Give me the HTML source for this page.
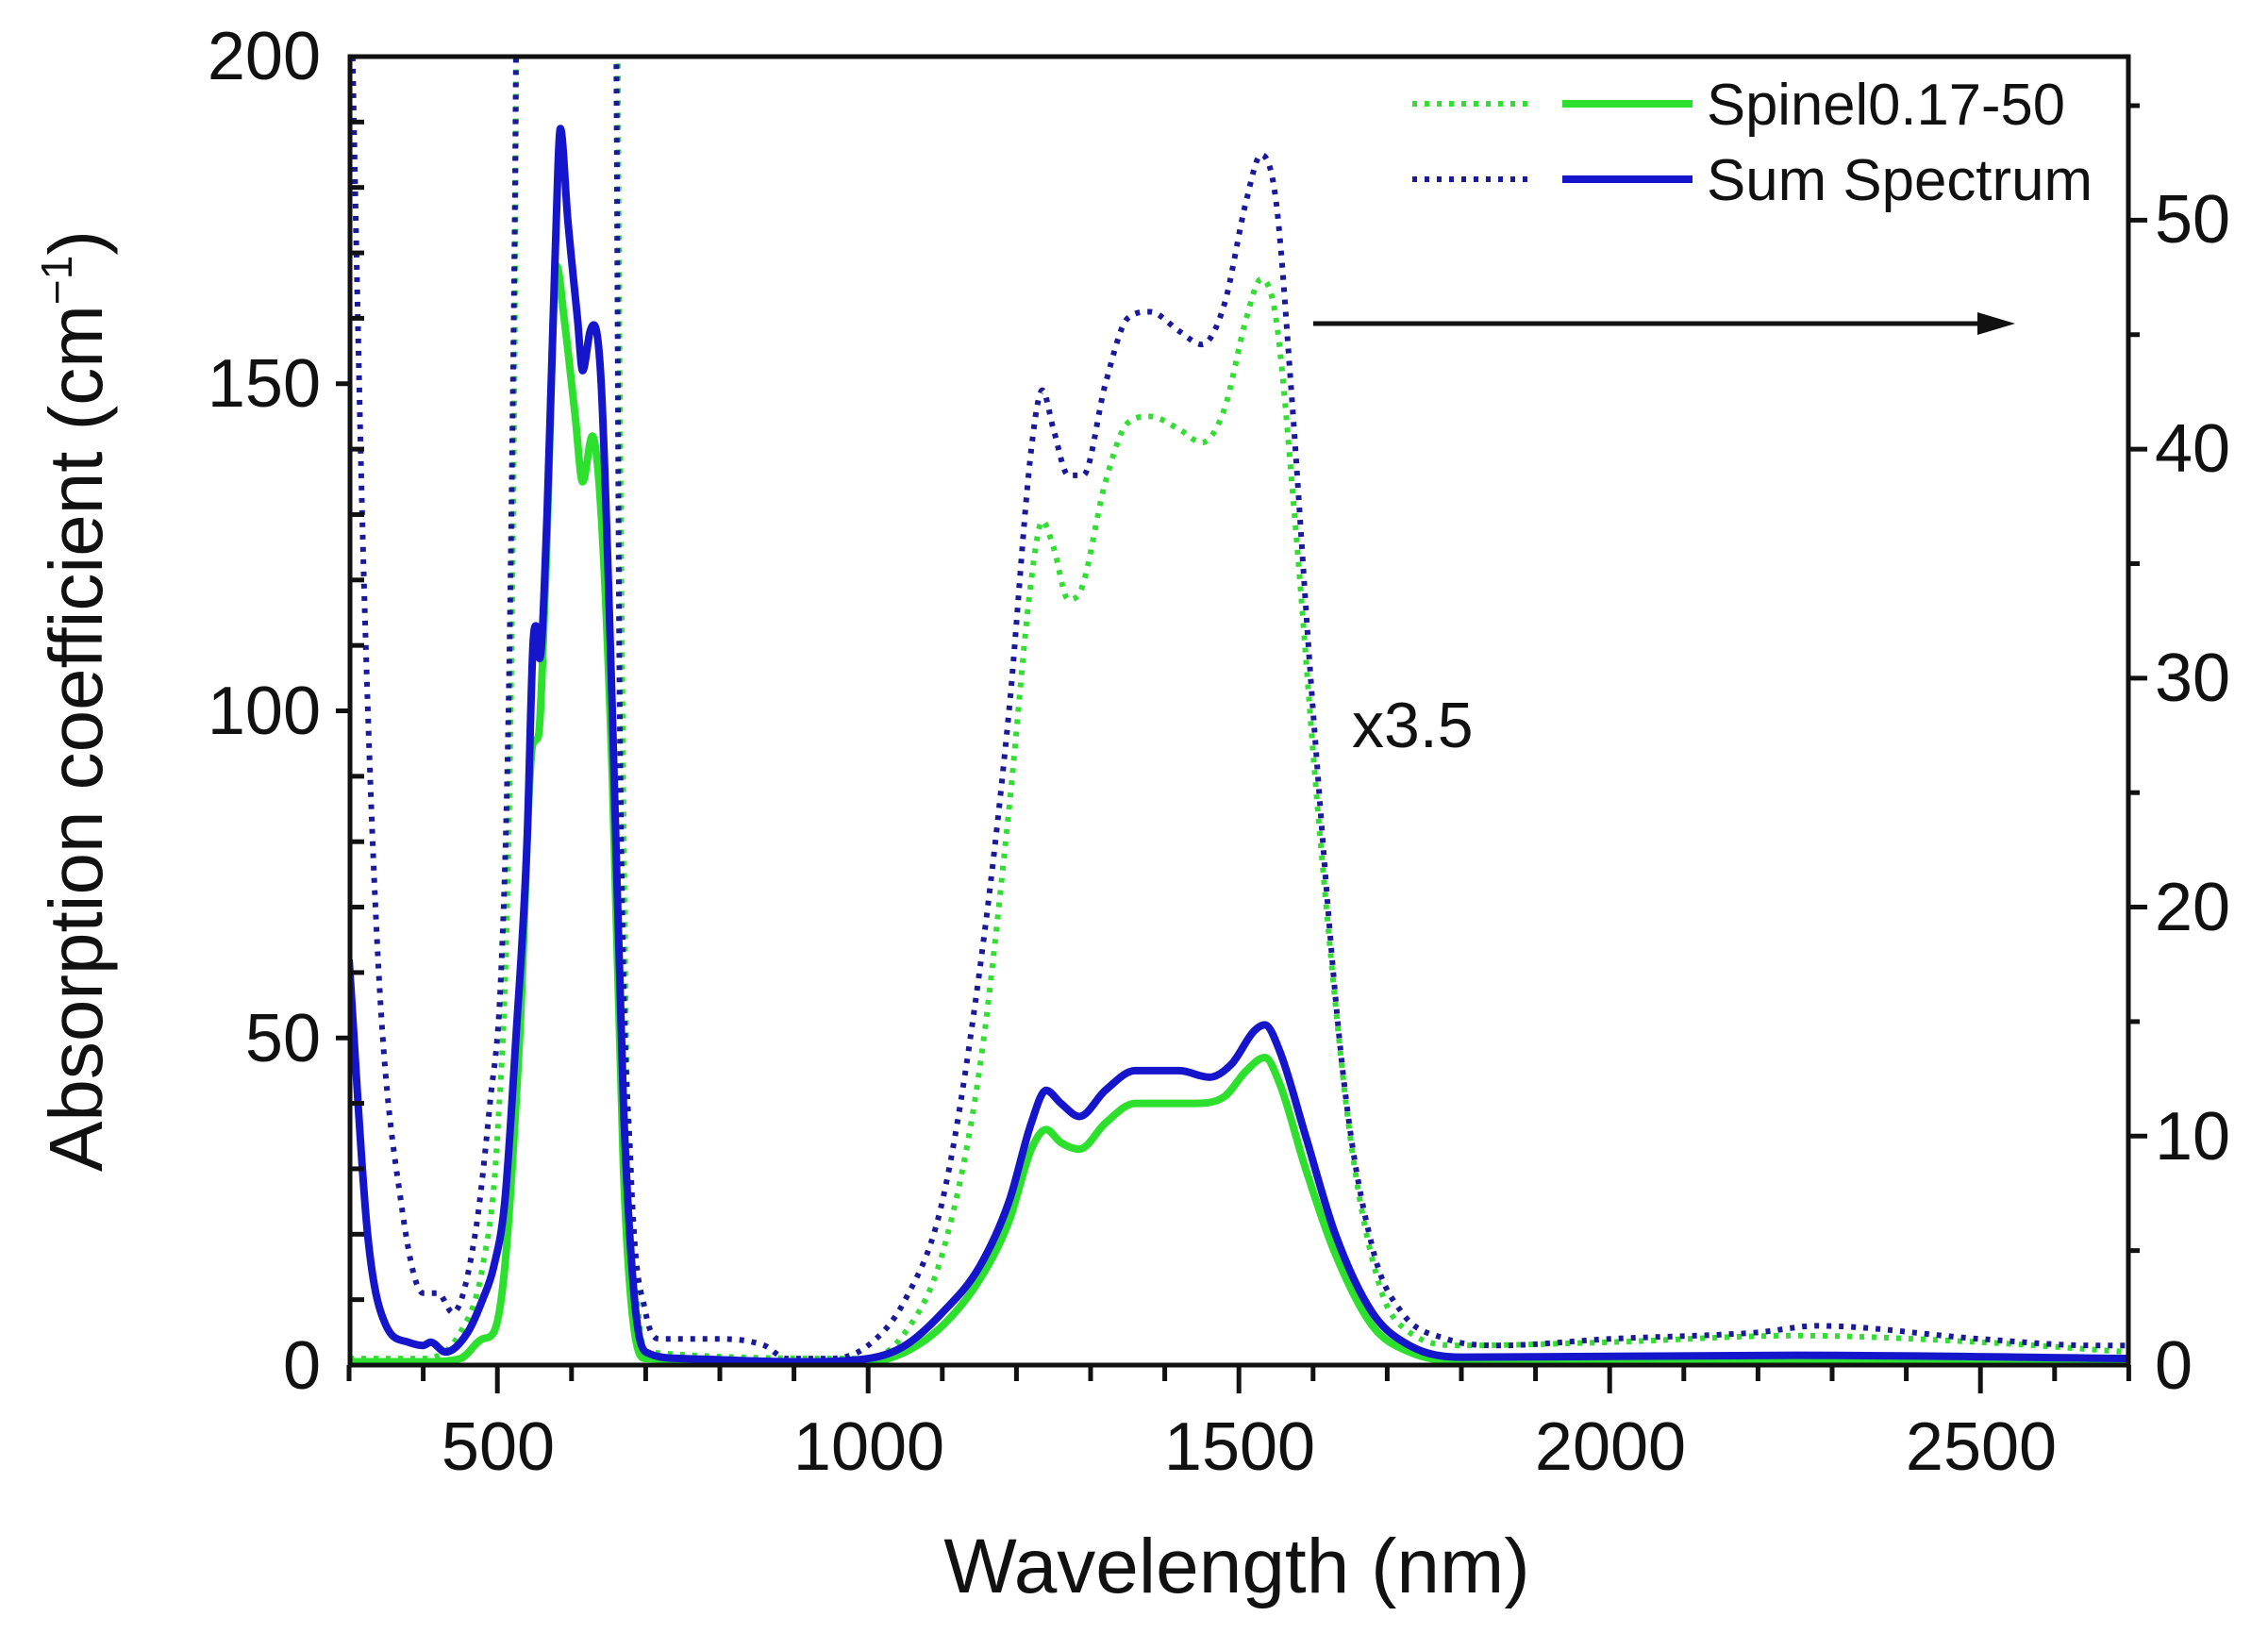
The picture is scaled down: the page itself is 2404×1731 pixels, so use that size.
<!DOCTYPE html>
<html><head><meta charset="utf-8"><style>
html,body{margin:0;padding:0;background:#fff;}
svg{display:block;}
text{font-family:"Liberation Sans",sans-serif;fill:#111;}
</style></head><body>
<svg id="s" width="2404" height="1731" viewBox="0 0 2404 1731" xmlns="http://www.w3.org/2000/svg">
<defs><clipPath id="c"><rect x="371" y="60" width="1885" height="1387"/></clipPath></defs>
<g id="curves" clip-path="url(#c)"></g>
<rect x="371" y="60" width="1885" height="1387" fill="none" stroke="#111" stroke-width="5"/>
<g id="ticks" stroke="#111" stroke-width="5"></g>
<g font-size="72">
<text x="340" y="1472" text-anchor="end">0</text>
<text x="340" y="1125" text-anchor="end">50</text>
<text x="340" y="778" text-anchor="end">100</text>
<text x="340" y="431" text-anchor="end">150</text>
<text x="340" y="84" text-anchor="end">200</text>
<text x="528" y="1558" text-anchor="middle">500</text>
<text x="921" y="1558" text-anchor="middle">1000</text>
<text x="1314" y="1558" text-anchor="middle">1500</text>
<text x="1707" y="1558" text-anchor="middle">2000</text>
<text x="2100" y="1558" text-anchor="middle">2500</text>
<text x="2284" y="1472">0</text>
<text x="2284" y="1229">10</text>
<text x="2284" y="986">20</text>
<text x="2284" y="743">30</text>
<text x="2284" y="500">40</text>
<text x="2284" y="257">50</text>
</g>
<text x="1311" y="1688" font-size="82" text-anchor="middle">Wavelength (nm)</text>
<text transform="translate(108,743) rotate(-90)" font-size="80" text-anchor="middle">Absorption coefficient (cm<tspan font-size="46" dy="-32">−1</tspan><tspan dy="32">)</tspan></text>
<text x="1433" y="792" font-size="68">x3.5</text>
<line x1="1392" y1="343" x2="2100" y2="343" stroke="#111" stroke-width="5"/>
<polygon points="2136,343 2096,331 2096,355" fill="#111"/>
<line x1="1497" y1="110" x2="1625" y2="110" stroke="#33dd33" stroke-width="6" stroke-dasharray="5 8"/>
<line x1="1656" y1="110" x2="1794" y2="110" stroke="#2ee02e" stroke-width="8"/>
<line x1="1497" y1="190" x2="1625" y2="190" stroke="#1a1a99" stroke-width="6" stroke-dasharray="5 8"/>
<line x1="1656" y1="190" x2="1794" y2="190" stroke="#1515cc" stroke-width="8"/>
<text x="1809" y="132" font-size="62" textLength="380" lengthAdjust="spacingAndGlyphs">Spinel0.17-50</text>
<text x="1809" y="212" font-size="62" textLength="409" lengthAdjust="spacingAndGlyphs">Sum Spectrum</text>
</svg>
<script>
const X=nm=>370+(nm-300)*0.786, Y=v=>1447-v*6.935;
function path(d){const p=d.map(a=>[X(a[0]),Y(a[1])]);const n=p.length;
const dl=[],m=[];for(let i=0;i<n-1;i++)dl.push((p[i+1][1]-p[i][1])/(p[i+1][0]-p[i][0]));
m[0]=dl[0];m[n-1]=dl[n-2];for(let i=1;i<n-1;i++){m[i]=(dl[i-1]*dl[i]<=0)?0:(dl[i-1]+dl[i])/2;}
for(let i=0;i<n-1;i++){if(dl[i]==0){m[i]=0;m[i+1]=0;continue;}const a=m[i]/dl[i],b=m[i+1]/dl[i],s=a*a+b*b;if(s>9){const t=3/Math.sqrt(s);m[i]=t*a*dl[i];m[i+1]=t*b*dl[i];}}
let s="M"+p[0][0]+","+p[0][1];
for(let i=0;i<n-1;i++){const h=(p[i+1][0]-p[i][0])/3;
s+=`C${p[i][0]+h},${p[i][1]+m[i]*h} ${p[i+1][0]-h},${p[i+1][1]-m[i+1]*h} ${p[i+1][0]},${p[i+1][1]}`;}return s;}
const sb=[[300,62],[325,20],[350,6],[380,3.5],[400,3],[410,3.5],[430,2],[460,5],[480,10],[495,15],[510,25],[525,50],[540,80],[548,110],[552,113],[557,108],[567,130],[578,170],[585,189],[595,175],[608,160],[615,152],[625,158],[630,159],[640,150],[655,100],[670,40],[685,10],[700,2],[750,1],[900,0.5],[1000,1],[1050,3],[1100,8],[1150,15],[1190,25],[1220,37],[1240,42],[1260,40],[1285,38],[1320,42],[1360,45],[1420,45],[1460,44],[1490,46],[1520,51],[1535,52],[1555,48],[1590,35],[1630,20],[1680,8],[1730,3],[1800,1.2],[2250,1.5],[2700,1]];
const sg=[[300,0.5],[400,0.5],[450,1],[480,4],[495,5],[510,15],[530,50],[548,95],[555,96],[565,120],[580,168],[590,160],[605,145],[615,135],[628,142],[640,130],[655,90],[670,30],[685,5],[700,1],[1000,0.5],[1050,2],[1100,6],[1150,13],[1190,22],[1220,33],[1240,36],[1260,34],[1285,33],[1320,37],[1360,40],[1440,40],[1480,41],[1510,45],[1535,47],[1555,43],[1590,30],[1630,17],[1680,6],[1730,2],[1800,0.6],[2700,0.5]];
const db=[[300,230],[310,170],[320,120],[340,60],[370,25],[400,11],[420,11],[440,8],[470,20],[490,40],[505,60],[515,100],[523,170],[528,230],[658,230],[665,100],[680,30],[700,8],[720,4],[800,4],[860,3],[890,1],[950,1],[1000,3],[1050,10],[1100,25],[1150,60],[1190,100],[1220,140],[1235,149],[1250,143],[1270,136],[1290,136],[1320,150],[1350,160],[1380,161],[1420,158],[1450,156],[1480,162],[1510,178],[1530,185],[1550,178],[1570,150],[1600,100],[1640,45],[1680,18],[1720,8],[1780,4],[1850,3],[2000,4],[2200,5],[2280,6],[2500,4],[2650,3],[2700,3]];
const dg=[[300,1],[400,1],[450,5],[480,15],[500,35],[515,80],[523,150],[528,230],[660,230],[665,150],[675,40],[690,8],[700,2],[1000,1],[1050,5],[1100,17],[1150,45],[1190,85],[1220,120],[1235,129],[1250,125],[1270,117],[1285,118],[1320,135],[1350,144],[1380,145],[1420,143],[1450,141],[1480,146],[1510,160],[1530,166],[1550,160],[1575,130],[1610,80],[1650,35],[1690,12],[1730,5],[1800,3],[2000,3.5],[2250,4.5],[2500,3.5],[2700,2]];
const g=document.getElementById("curves");
function add(d,col,w,dash){const e=document.createElementNS("http://www.w3.org/2000/svg","path");e.setAttribute("d",path(d));e.setAttribute("fill","none");e.setAttribute("stroke",col);e.setAttribute("stroke-width",w);e.setAttribute("stroke-linejoin","round");if(dash){e.setAttribute("stroke-dasharray",dash);}g.appendChild(e);}
add(dg,"#33dd33",6,"5 8");add(db,"#1a1a99",6,"5 8");add(sg,"#2ee02e",8);add(sb,"#1515cc",8);
const t=document.getElementById("ticks");let h="";
for(let nm=300;nm<=2700;nm+=100){const x=X(nm);h+=`<line x1="${x}" y1="1447" x2="${x}" y2="${nm%500==0?1477:1464}"/>`;}
for(let v=10;v<200;v+=10){const y=Y(v);h+=v%50==0?`<line x1="371" y1="${y}" x2="356" y2="${y}"/>`:`<line x1="371" y1="${y}" x2="386" y2="${y}"/>`;}
for(let r=5;r<57;r+=5){const y=Y(r*3.5);h+=`<line x1="2256" y1="${y}" x2="${r%10==0?2276:2268}" y2="${y}"/>`;}
t.innerHTML=h;
</script>
</body></html>
